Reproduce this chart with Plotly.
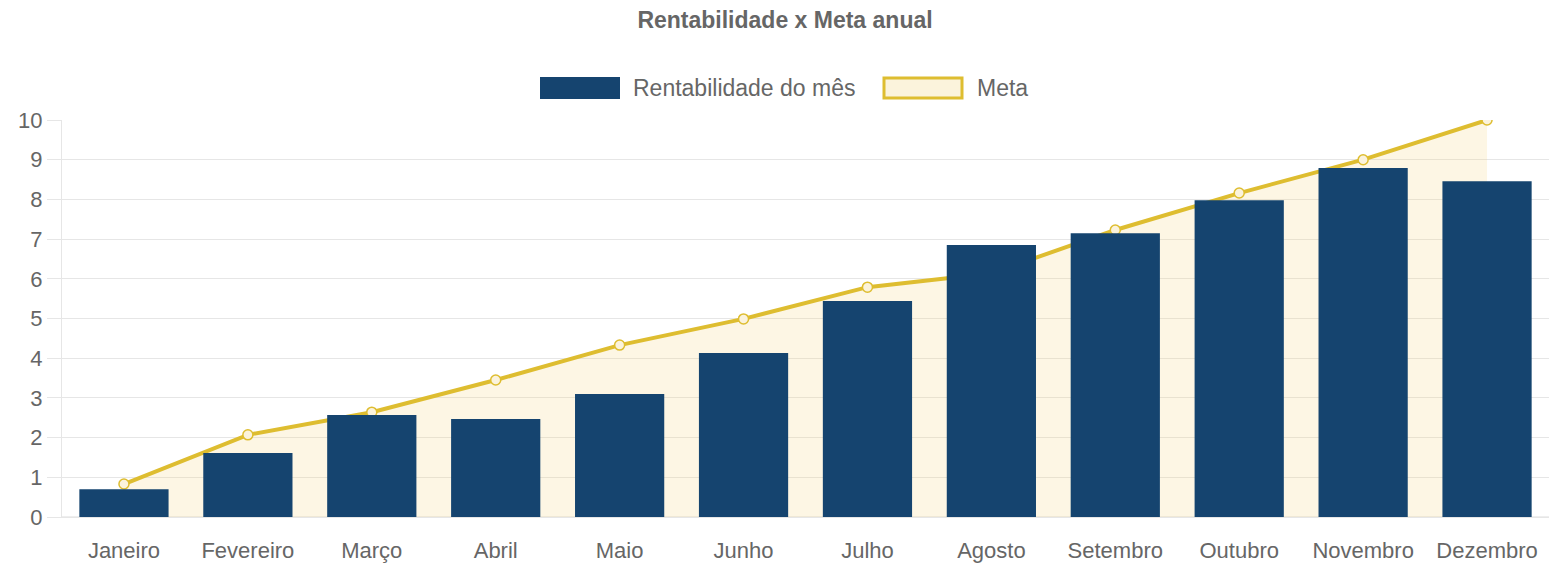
import plotly.graph_objects as go

meses = ["Janeiro", "Fevereiro", "Março", "Abril", "Maio", "Junho",
         "Julho", "Agosto", "Setembro", "Outubro", "Novembro", "Dezembro"]
rentabilidade = [0.70, 1.61, 2.57, 2.47, 3.10, 4.13, 5.44, 6.85, 7.15, 7.98, 8.79, 8.46]
meta = [0.83, 2.07, 2.64, 3.45, 4.33, 4.99, 5.79, 6.14, 7.23, 8.16, 9.00, 10.00]
y_ticks = [0, 1, 2, 3, 4, 5, 6, 7, 8, 9, 10]

BAR = "#15446F"
LINE = "#DEBD30"
FILL = "rgba(245,215,130,0.22)"
TXT = "#666666"
GRID = "#E6E6E6"
FONT = "Liberation Sans, Arial, sans-serif"

W, H = 1551, 568
L, R, T, B = 62, 2, 120, 51
pw, ph = W - L - R, H - T - B


def px(x):
    return (x - L) / pw


def py(y):
    return (H - B - y) / ph


fig = go.Figure()
fig.add_trace(go.Scatter(
    x=meses, y=meta, name="Meta", mode="lines+markers",
    line=dict(color=LINE, width=4), fill="tozeroy", fillcolor=FILL,
    marker=dict(size=10, color="#FBF3DC", line=dict(color=LINE, width=1.5)),
    xaxis="x", yaxis="y", showlegend=False,
))
fig.add_trace(go.Bar(
    x=meses, y=rentabilidade, name="Rentabilidade do mês",
    marker=dict(color=BAR, line=dict(width=0)),
    xaxis="x", yaxis="y2", showlegend=False,
))

shapes = [
    dict(type="rect", xref="paper", yref="paper",
         x0=px(540), x1=px(620), y0=py(99), y1=py(77),
         fillcolor=BAR, line=dict(width=0)),
    dict(type="rect", xref="paper", yref="paper",
         x0=px(884), x1=px(962), y0=py(98), y1=py(78),
         fillcolor="#FBF3DC", line=dict(color=LINE, width=3)),
]
annotations = [
    dict(text="Rentabilidade do mês", xref="paper", yref="paper",
         x=px(631), y=py(88), xanchor="left", yanchor="middle", showarrow=False,
         font=dict(family=FONT, size=23, color=TXT)),
    dict(text="Meta", xref="paper", yref="paper",
         x=px(975), y=py(88), xanchor="left", yanchor="middle", showarrow=False,
         font=dict(family=FONT, size=23, color=TXT)),
]

fig.update_layout(
    width=W, height=H,
    margin=dict(l=L, r=R, t=T, b=B),
    paper_bgcolor="white", plot_bgcolor="white",
    title=dict(text="<b>Rentabilidade x Meta anual</b>", x=785 / W, xref="container",
               xanchor="center", y=1 - 20 / H, yanchor="middle",
               font=dict(family=FONT, size=23, color=TXT)),
    font=dict(family=FONT, color=TXT),
    bargap=0.28,
    shapes=shapes,
    annotations=annotations,
    xaxis=dict(showgrid=False, showline=True, linecolor=GRID, linewidth=1,
               mirror=False, ticks="", tickfont=dict(size=22, color=TXT),
               ticklabelstandoff=14, zeroline=False),
    yaxis=dict(range=[0, 10], tickvals=y_ticks, showgrid=True, gridcolor=GRID,
               gridwidth=1, zeroline=False, showline=True, linecolor=GRID,
               ticks="outside", ticklen=14, tickcolor=GRID,
               tickfont=dict(size=22, color=TXT)),
    yaxis2=dict(range=[0, 10], overlaying="y", visible=False),
)
fig.add_shape(type="line", xref="paper", yref="paper", x0=0, x1=1, y0=0, y1=0,
              line=dict(color="#DDDDDD", width=1), layer="below")

fig.write_html("out.html")
